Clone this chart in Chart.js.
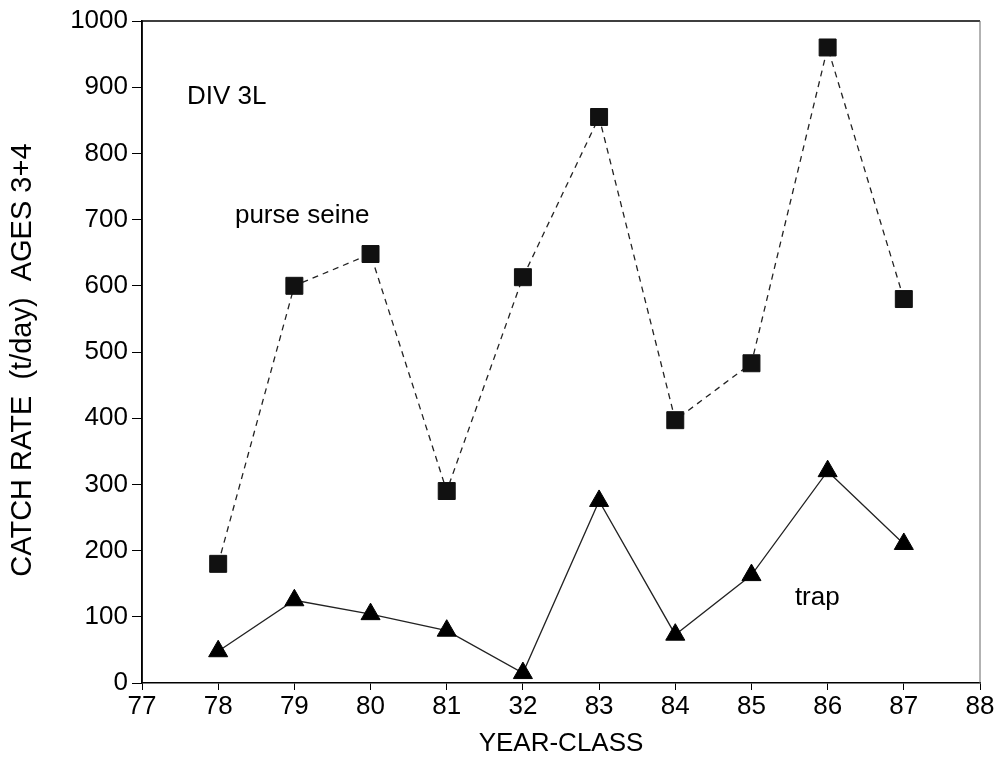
<!DOCTYPE html>
<html>
<head>
<meta charset="utf-8">
<title>Catch rate DIV 3L</title>
<script src="https://cdn.jsdelivr.net/npm/chart.js@4/dist/chart.umd.min.js"></script>
<style>
    body { margin: 0; background: #fff; }
    #wrap { width: 1002px; height: 763px; }
</style>
</head>
<body>
<div id="wrap"><canvas id="chart" width="1002" height="763"></canvas></div>
<script>
// year-classes and catch rates (t/day), ages 3+4
const yearClasses = [78, 79, 80, 81, 82, 83, 84, 85, 86, 87];
const purseSeine = [180, 600, 648, 290, 613, 855, 397, 483, 960, 580];
const trap = [48, 125, 104, 79, 15, 275, 73, 163, 320, 210];

// x tick labels as printed on the scan
const xTickValues = [77, 78, 79, 80, 81, 82, 83, 84, 85, 86, 87, 88];
const xTickLabels = ['77', '78', '79', '80', '81', '32', '83', '84', '85', '86', '87', '88'];

const FONT = '"Liberation Sans", Arial, Helvetica, sans-serif';

const notes = [
    { text: 'DIV 3L', x: 77.59, y: 875 },
    { text: 'purse seine', x: 78.22, y: 695 },
    { text: 'trap', x: 85.57, y: 118 }
];

const frame = {
    id: 'frame',
    afterDatasetsDraw(chart) {
        const { ctx, chartArea: a, scales } = chart;
        ctx.save();
        ctx.strokeStyle = '#000';
        ctx.lineWidth = 1.5;
        ctx.beginPath();
        ctx.moveTo(a.left, a.bottom);
        ctx.lineTo(a.left, a.top);
        ctx.lineTo(a.right, a.top);
        ctx.stroke();
        ctx.strokeStyle = '#666';
        ctx.lineWidth = 1;
        ctx.beginPath();
        ctx.moveTo(a.right, a.top);
        ctx.lineTo(a.right, a.bottom);
        ctx.stroke();

        ctx.fillStyle = '#000';
        ctx.font = '26px ' + FONT;
        ctx.textBaseline = 'alphabetic';
        notes.forEach(n => {
            ctx.fillText(n.text, scales.x.getPixelForValue(n.x), scales.y.getPixelForValue(n.y));
        });
        ctx.restore();
    }
};

new Chart(document.getElementById('chart'), {
    type: 'line',
    data: {
        datasets: [{
            label: 'purse seine',
            data: yearClasses.map((x, i) => ({ x, y: purseSeine[i] })),
            borderColor: '#222',
            borderWidth: 1.3,
            borderDash: [6, 5],
            pointStyle: 'rect',
            pointRadius: 12,
            pointBackgroundColor: '#111',
            pointBorderColor: '#111',
            pointBorderWidth: 1
        }, {
            label: 'trap',
            data: yearClasses.map((x, i) => ({ x, y: trap[i] })),
            borderColor: '#222',
            borderWidth: 1.3,
            pointStyle: 'triangle',
            pointRadius: 11,
            pointBackgroundColor: '#000',
            pointBorderColor: '#000',
            pointBorderWidth: 1
        }]
    },
    options: {
        responsive: false,
        animation: false,
        layout: { padding: { top: 21, right: 22, bottom: 0, left: 0 } },
        plugins: {
            legend: { display: false },
            tooltip: { enabled: false }
        },
        scales: {
            x: {
                type: 'linear',
                min: 77,
                max: 88,
                afterFit: s => { s.height = 80; },
                afterBuildTicks: s => { s.ticks = xTickValues.map(v => ({ value: v })); },
                grid: {
                    drawOnChartArea: false,
                    drawTicks: true,
                    tickLength: 7,
                    color: '#000'
                },
                border: { color: '#000', width: 1.5 },
                ticks: {
                    color: '#000',
                    padding: 1,
                    maxRotation: 0,
                    autoSkip: false,
                    font: { family: FONT, size: 26 },
                    callback: v => xTickLabels[xTickValues.indexOf(v)]
                },
                title: {
                    display: true,
                    text: 'YEAR-CLASS',
                    color: '#000',
                    font: { family: FONT, size: 26 },
                    padding: { top: 0, bottom: 4 }
                }
            },
            y: {
                min: 0,
                max: 1000,
                afterFit: s => { s.width = 142; },
                grid: {
                    drawOnChartArea: false,
                    drawTicks: true,
                    tickLength: 10,
                    color: '#000'
                },
                border: { color: '#000', width: 1.5 },
                ticks: {
                    stepSize: 100,
                    color: '#000',
                    padding: 4,
                    font: { family: FONT, size: 26 },
                    callback: v => String(v)
                },
                title: {
                    display: true,
                    text: 'CATCH RATE  (t/day)  AGES 3+4  ',
                    color: '#000',
                    font: { family: FONT, size: 29 },
                    padding: { top: 6, bottom: 0 }
                }
            }
        }
    },
    plugins: [frame]
});
</script>
</body>
</html>
